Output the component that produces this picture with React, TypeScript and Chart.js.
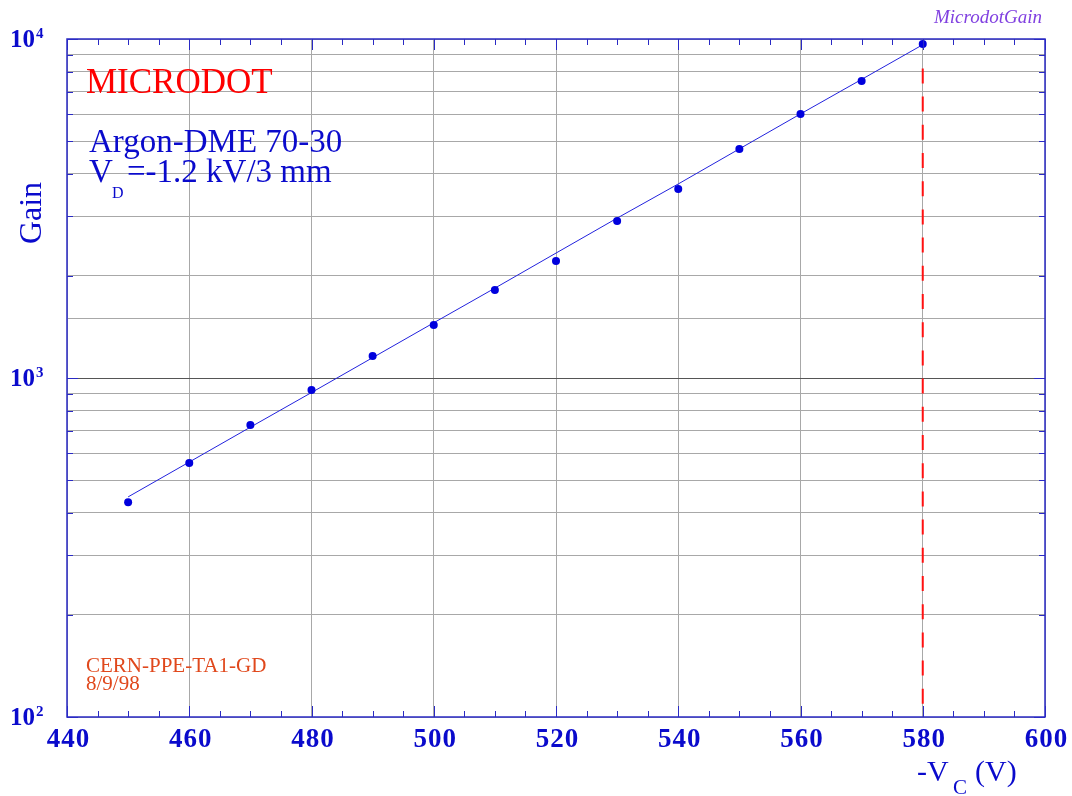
import React, { useEffect, useRef } from "react";
import { Chart, registerables } from "chart.js";

Chart.register(...registerables);

// Measured gain versus cathode voltage (-V_C, volts)
const voltages = [450, 460, 470, 480, 490, 500, 510, 520, 530, 540, 550, 560, 570, 580];
const measuredGain = [430, 561, 727, 922, 1161, 1433, 1818, 2214, 2904, 3610, 4740, 6010, 7520, 9670];

// Exponential fit through the measurements, sampled at the same voltages
const fitGain = [446, 565, 716, 906, 1148, 1455, 1841, 2336, 2962, 3736, 4741, 6012, 7600, 9620];

// Operating limit marker
const limitVoltage = [580, 580];
const limitGain = [100, 8550];

// Axis tick values
const xTickValues = [440, 460, 480, 500, 520, 540, 560, 580, 600];
const yDecadeExponents = [2, 3, 4];

const SERIF = '"Liberation Serif", "DejaVu Serif", serif';
const AXIS_BLUE = "#2a2ac4";
const LABEL_BLUE = "#0a0acc";

const annotations = {
  id: "microdotAnnotations",
  afterDraw(chart: any) {
    const { ctx, chartArea, scales } = chart;
    const { left, right, top, bottom } = chartArea;
    const xs = scales.x;
    const ys = scales.y;
    ctx.save();

    // frame
    ctx.strokeStyle = AXIS_BLUE;
    ctx.lineWidth = 1.5;
    ctx.strokeRect(left, top, right - left, bottom - top);

    // x ticks: major every 20, minor every 5, on bottom and top
    ctx.lineWidth = 1;
    for (let v = 440; v <= 600; v += 5) {
      const px = Math.round(xs.getPixelForValue(v)) + 0.5;
      const len = v % 20 === 0 ? 11 : 6;
      ctx.beginPath();
      ctx.moveTo(px, bottom);
      ctx.lineTo(px, bottom - len);
      ctx.moveTo(px, top);
      ctx.lineTo(px, top + len);
      ctx.stroke();
    }
    // y ticks at every gridline, left and right
    for (let d = 100; d < 10000; d *= 10) {
      for (let m = 1; m <= 10; m++) {
        const v = d * m;
        const py = Math.round(ys.getPixelForValue(v)) + 0.5;
        const len = m === 1 || m === 10 ? 11 : 6;
        ctx.beginPath();
        ctx.moveTo(left, py);
        ctx.lineTo(left + len, py);
        ctx.moveTo(right, py);
        ctx.lineTo(right - len, py);
        ctx.stroke();
      }
    }

    // x tick labels
    ctx.fillStyle = LABEL_BLUE;
    ctx.font = `bold 27px ${SERIF}`;
    ctx.textBaseline = "alphabetic";
    ctx.textAlign = "left";
    const spacing = 1;
    (ctx as any).letterSpacing = `${spacing}px`;
    for (const v of xTickValues) {
      const label = String(v);
      const w = ctx.measureText(label).width;
      const cx = xs.getPixelForValue(v) + 1;
      ctx.fillText(label, cx - (w - spacing) / 2, bottom + 30);
    }
    (ctx as any).letterSpacing = "0px";

    // y tick labels: 10^n
    for (const e of yDecadeExponents) {
      const py = ys.getPixelForValue(Math.pow(10, e));
      ctx.font = `bold 25px ${SERIF}`;
      ctx.fillText("10", 10, py + 8);
      ctx.font = `bold 15px ${SERIF}`;
      ctx.fillText(String(e), 36, py - 1);
    }

    // y axis title
    ctx.save();
    ctx.translate(41, 213);
    ctx.rotate(-Math.PI / 2);
    ctx.textAlign = "center";
    ctx.font = `32px ${SERIF}`;
    ctx.fillStyle = LABEL_BLUE;
    ctx.fillText("Gain", 0, 0);
    ctx.restore();

    // x axis title: -V_C (V)
    ctx.fillStyle = LABEL_BLUE;
    ctx.font = `30px ${SERIF}`;
    ctx.fillText("-V", 917, 781);
    ctx.font = `21px ${SERIF}`;
    ctx.fillText("C", 953, 794);
    ctx.font = `30px ${SERIF}`;
    ctx.fillText("(V)", 975, 781);

    // headings inside the frame
    ctx.fillStyle = "#ff0000";
    ctx.font = `35px ${SERIF}`;
    ctx.fillText("MICRODOT", 86, 93);

    ctx.fillStyle = LABEL_BLUE;
    ctx.font = `33px ${SERIF}`;
    ctx.fillText("Argon-DME 70-30", 89, 152);
    ctx.fillText("V", 89, 182);
    ctx.font = `16px ${SERIF}`;
    ctx.fillText("D", 112, 198);
    ctx.font = `33px ${SERIF}`;
    ctx.fillText("=-1.2 kV/3 mm", 127, 182);

    ctx.fillStyle = "#e0481c";
    ctx.font = `21px ${SERIF}`;
    ctx.fillText("CERN-PPE-TA1-GD", 86, 672);
    ctx.fillText("8/9/98", 86, 690);

    ctx.fillStyle = "#8040e0";
    ctx.font = `italic 19px ${SERIF}`;
    ctx.textAlign = "right";
    ctx.fillText("MicrodotGain", 1042, 23);

    ctx.restore();
  },
};

export default function App() {
  const canvasRef = useRef<HTMLCanvasElement | null>(null);

  useEffect(() => {
    const canvas = canvasRef.current;
    if (!canvas) return;
    const toPoints = (xv: number[], yv: number[]) => xv.map((x, i) => ({ x, y: yv[i] }));

    const chart = new Chart(canvas, {
      type: "scatter",
      data: {
        datasets: [
          {
            label: "Measured gain",
            data: toPoints(voltages, measuredGain),
            showLine: false,
            pointRadius: 4,
            pointBackgroundColor: "#0000dd",
            pointBorderColor: "#0000dd",
            pointBorderWidth: 0,
            order: 0,
          },
          {
            label: "Fit",
            data: toPoints(voltages, fitGain),
            showLine: true,
            pointRadius: 0,
            borderColor: "#2222dd",
            borderWidth: 1,
            tension: 0,
            order: 1,
          },
          {
            label: "Limit",
            data: toPoints(limitVoltage, limitGain),
            showLine: true,
            pointRadius: 0,
            borderColor: "#ff1010",
            borderWidth: 2,
            borderDash: [15, 13.2],
            borderDashOffset: 15,
            order: 2,
          },
        ],
      },
      options: {
        responsive: false,
        animation: false,
        layout: { padding: { top: 39, right: 27, left: 0, bottom: 0 } },
        plugins: {
          legend: { display: false },
          tooltip: { enabled: false },
        },
        scales: {
          x: {
            type: "linear",
            min: 440,
            max: 600,
            ticks: { display: false, stepSize: 20 },
            grid: { color: "#a8a8a8", lineWidth: 1, drawTicks: false },
            border: { display: false },
            afterFit: (s: any) => {
              s.height = 79;
            },
          },
          y: {
            type: "logarithmic",
            min: 100,
            max: 10000,
            ticks: { display: false },
            grid: {
              color: (c: any) => (c.tick && c.tick.value === 1000 ? "#555555" : "#a8a8a8"),
              lineWidth: 1,
              drawTicks: false,
            },
            border: { display: false },
            afterFit: (s: any) => {
              s.width = 67;
            },
          },
        },
      },
      plugins: [annotations],
    });
    return () => chart.destroy();
  }, []);

  return (
    <div style={{ position: "absolute", left: 0, top: 0, width: 1072, height: 796, background: "#fff" }}>
      <canvas ref={canvasRef} width={1072} height={796} />
    </div>
  );
}
